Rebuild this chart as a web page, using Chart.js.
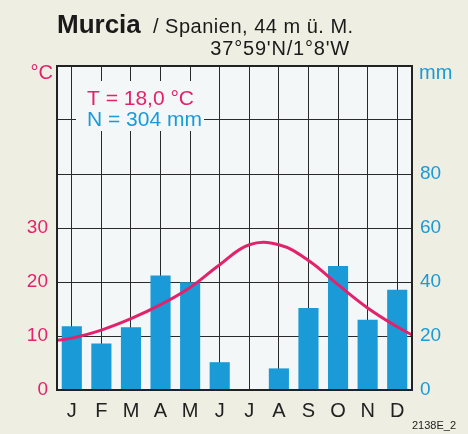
<!DOCTYPE html>
<html>
<head>
<meta charset="utf-8">
<script src="https://cdn.jsdelivr.net/npm/chart.js@4.4.1/dist/chart.umd.min.js"></script>
<style>
  html, body { margin: 0; padding: 0; background: #efeee2; }
  #c { display: block; }
</style>
</head>
<body>
<canvas id="c" width="468" height="434"></canvas>
<script>
// ---- data ----
const months = ['J','F','M','A','M','J','J','A','S','O','N','D'];
const precip = [23.6, 17.2, 23.2, 42.4, 39.9, 10.3, 0, 8.0, 30.4, 45.9, 26.0, 37.1]; // mm
const temp = [9.6, 11.1, 13.2, 15.8, 19.0, 23.2, 26.9, 26.9, 24.0, 19.5, 15.2, 11.7]; // °C
const tempEdges = [9.2, 10.2]; // curve at left (start Jan) and right (end Dec) edge
const tempTicks = [0, 10, 20, 30];
const precipTicks = [0, 20, 40, 60, 80];
const titleMain = 'Murcia';
const titleSub = '/ Spanien, 44 m ü. M.';
const titleCoords = "37°59'N/1°8'W";
const annT = 'T = 18,0 °C';
const annN = 'N = 304 mm';
const codeLabel = '2138E_2';

const PINK = '#e3226c';
const BLUE = '#1a9ad7';
const PLOTBG = '#f4f7f8';
const FONT = '"Liberation Sans", Arial, Helvetica, sans-serif';

const lineData = [{x: 0, y: tempEdges[0]}]
  .concat(temp.map((t, i) => ({x: i + 0.5, y: t})))
  .concat([{x: 12, y: tempEdges[1]}]);

const decor = {
  id: 'decor',
  beforeDraw(chart) {
    const {ctx, chartArea: a} = chart;
    ctx.save();
    ctx.fillStyle = PLOTBG;
    ctx.fillRect(a.left, a.top, a.right - a.left, a.bottom - a.top);
    ctx.restore();
  },
  afterDatasetsDraw(chart) {
    const {ctx, chartArea: a} = chart;
    ctx.save();
    // frame
    ctx.strokeStyle = '#222';
    ctx.lineWidth = 2;
    ctx.strokeRect(a.left, a.top, a.right - a.left, a.bottom - a.top);
    // annotation box
    ctx.fillStyle = PLOTBG;
    ctx.fillRect(76, 81, 128, 50);
    ctx.font = '21px ' + FONT;
    ctx.textBaseline = 'middle';
    ctx.textAlign = 'left';
    ctx.fillStyle = PINK;
    ctx.fillText(annT, 87, 99);
    ctx.fillStyle = BLUE;
    ctx.fillText(annN, 87, 120);
    // axis unit labels
    ctx.font = '20px ' + FONT;
    ctx.fillStyle = PINK;
    ctx.textAlign = 'right';
    ctx.fillText('°C', 53, 73);
    ctx.fillStyle = BLUE;
    ctx.textAlign = 'left';
    ctx.fillText('mm', 419, 73);
    // title
    ctx.textBaseline = 'alphabetic';
    ctx.fillStyle = '#1a1a1a';
    ctx.font = 'bold 26px ' + FONT;
    ctx.fillText(titleMain, 57, 33);
    ctx.font = '20px ' + FONT;
    if ('letterSpacing' in ctx) ctx.letterSpacing = '0.5px';
    ctx.fillText(titleSub, 153, 33);
    ctx.textAlign = 'right';
    if ('letterSpacing' in ctx) ctx.letterSpacing = '0.8px';
    ctx.fillText(titleCoords, 350, 55);
    if ('letterSpacing' in ctx) ctx.letterSpacing = '0px';
    // code label
    ctx.font = '11px ' + FONT;
    ctx.fillStyle = '#222';
    ctx.fillText(codeLabel, 456, 429);
    ctx.restore();
  }
};

new Chart(document.getElementById('c'), {
  type: 'bar',
  data: {
    labels: months,
    datasets: [
      {
        type: 'line',
        data: lineData,
        xAxisID: 'xl',
        yAxisID: 'y',
        borderColor: PINK,
        borderWidth: 3,
        pointRadius: 0,
        tension: 0.4,
        fill: false,
        order: 0
      },
      {
        type: 'bar',
        data: precip,
        xAxisID: 'x',
        yAxisID: 'y1',
        backgroundColor: BLUE,
        borderWidth: 0,
        grouped: false,
        barPercentage: 0.68,
        categoryPercentage: 1,
        order: 1
      }
    ]
  },
  options: {
    responsive: false,
    animation: false,
    layout: { padding: { top: 66, left: 0, right: 0, bottom: 0 } },
    plugins: { legend: { display: false }, tooltip: { enabled: false } },
    scales: {
      x: {
        type: 'category',
        position: 'bottom',
        offset: true,
        grid: { offset: false, color: '#2a2a2a', lineWidth: 1, drawTicks: false },
        border: { display: false },
        ticks: { color: '#222', font: { family: FONT, size: 20 }, padding: 9, maxRotation: 0, autoSkip: false },
        afterFit(s) { s.height = 44; }
      },
      xl: {
        type: 'linear',
        position: 'bottom',
        min: 0,
        max: 12,
        offset: false,
        display: false
      },
      y: {
        position: 'left',
        min: 0,
        max: 60,
        grid: { color: '#2a2a2a', lineWidth: 1, drawTicks: false },
        border: { display: false },
        ticks: {
          stepSize: 10,
          color: PINK,
          font: { family: FONT, size: 19 },
          padding: 9,
          callback: v => tempTicks.includes(v) ? String(v) : ''
        },
        afterFit(s) { s.width = 57; }
      },
      y1: {
        position: 'right',
        min: 0,
        max: 120,
        grid: { display: false, drawTicks: false },
        border: { display: false },
        ticks: {
          stepSize: 20,
          color: BLUE,
          font: { family: FONT, size: 19 },
          padding: 8,
          callback: v => precipTicks.includes(v) ? String(v) : ''
        },
        afterFit(s) { s.width = 56; }
      }
    }
  },
  plugins: [decor]
});
</script>
</body>
</html>
